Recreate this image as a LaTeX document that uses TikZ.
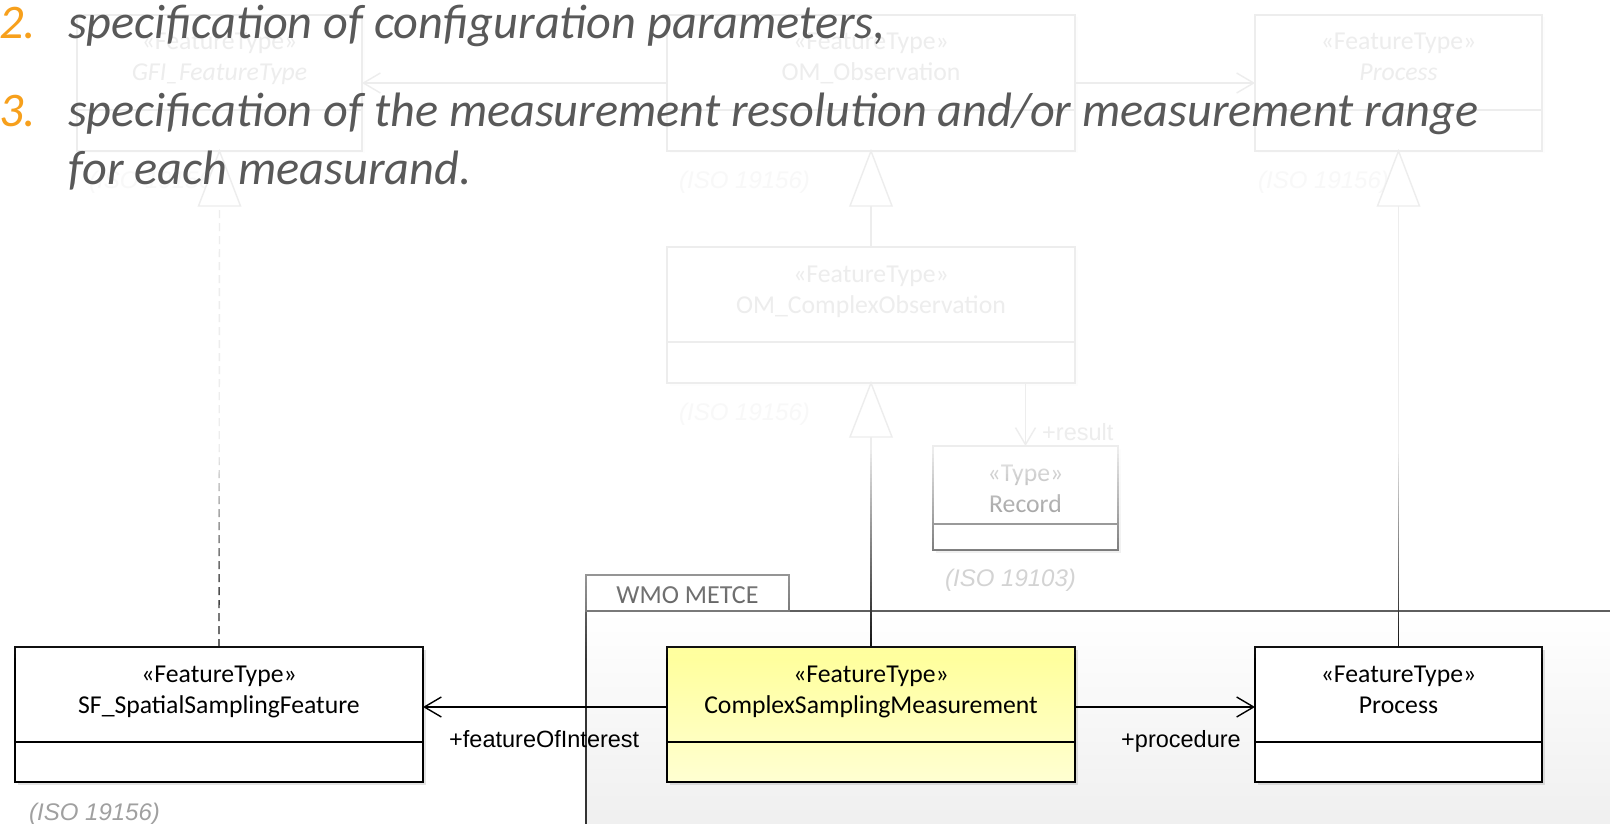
\documentclass[tikz,border=0pt]{standalone}
\usepackage{fontspec}
\setmainfont{Carlito}
\newfontfamily\arialf{Liberation Sans}
\usetikzlibrary{arrows.meta,calc,shadows}
\definecolor{headgray}{HTML}{595959}
\definecolor{numorange}{HTML}{F7A01C}
\definecolor{isogray}{HTML}{A0A0A0}
\definecolor{isolight}{HTML}{D3D3D3}
\definecolor{pkgline}{HTML}{333333}
\definecolor{tabline}{HTML}{555555}
\definecolor{pkgbottom}{HTML}{EFEFEF}
\definecolor{csmtop}{HTML}{FFFF99}
\definecolor{csmbottom}{HTML}{FFFFD2}
\tikzset{
  umlbox/.style={draw=black, line width=1.8pt, fill=white, rectangle, inner sep=0pt, outer sep=0pt,
    drop shadow={shadow xshift=2.5pt, shadow yshift=-2.5pt, opacity=0.22}},
  divider/.style={line width=1.8pt},
  stereo/.style={anchor=base, inner sep=0pt, font=\fontsize{25.7}{30}\selectfont},
  stereoit/.style={anchor=base, inner sep=0pt, font=\itshape\fontsize{25.7}{30}\selectfont},
  assoc/.style={line width=1.4pt, -{Straight Barb[length=17pt,width=20pt,line width=1.4pt]}},
  genline/.style={line width=1.4pt},
  gentri/.style={line width=1.4pt, fill=white, line join=miter},
  rolelabel/.style={anchor=base west, inner sep=0pt, font=\arialf\fontsize{23.5}{28}\selectfont},
  isolabel/.style={anchor=base west, inner sep=0pt, font=\arialf\itshape\fontsize{24}{28}\selectfont, text=isogray},
  headtext/.style={anchor=base west, inner sep=0pt, font=\itshape\fontsize{48.3}{58}\selectfont, text=headgray},
  headnum/.style={anchor=base west, inner sep=0pt, font=\itshape\fontsize{48.3}{58}\selectfont, text=numorange},
}
\begin{document}
\begin{tikzpicture}[x=1pt,y=-1pt]
\fill[white] (0,0) rectangle (1610,824);
\useasboundingbox (0,0) rectangle (1610,824);

% ---------- package WMO METCE ----------
\shade[top color=white, bottom color=pkgbottom] (586,611) rectangle (1615,830);
\draw[pkgline, line width=1.3pt] (586,830) -- (586,611) -- (1615,611);
\node[draw=tabline, line width=1.3pt, fill=white, minimum width=203pt, minimum height=36pt,
      inner sep=0pt, outer sep=0pt] (tab) at (687.5,593) {};
\node[anchor=base, inner sep=0pt, text=pkgline, font=\fontsize{26}{30}\selectfont] (tabtxt) at (687.5,603) {WMO METCE};

% ---------- upper (faded) classes ----------
\node[umlbox, minimum width=285pt, minimum height=136pt] (gfi) at (219.5,83) {};
\draw[divider] ($(gfi.south west)+(0,-41)$) -- ($(gfi.south east)+(0,-41)$);
\node[stereo] (gfi-s) at (219.5,50) {«FeatureType»};
\node[stereoit] (gfi-n) at (219.5,81) {GFI\_FeatureType};

\node[umlbox, minimum width=408pt, minimum height=136pt] (om) at (871,83) {};
\draw[divider] ($(om.south west)+(0,-41)$) -- ($(om.south east)+(0,-41)$);
\node[stereo] (om-s) at (871,50) {«FeatureType»};
\node[stereo] (om-n) at (871,81) {OM\_Observation};

\node[umlbox, minimum width=287pt, minimum height=136pt] (pr1) at (1398.5,83) {};
\draw[divider] ($(pr1.south west)+(0,-41)$) -- ($(pr1.south east)+(0,-41)$);
\node[stereo] (pr1-s) at (1398.5,50) {«FeatureType»};
\node[stereoit] (pr1-n) at (1398.5,81) {Process};

\node[umlbox, minimum width=408pt, minimum height=136pt] (omc) at (871,315) {};
\draw[divider] ($(omc.south west)+(0,-41)$) -- ($(omc.south east)+(0,-41)$);
\node[stereo] (omc-s) at (871,282) {«FeatureType»};
\node[stereo] (omc-n) at (871,313) {OM\_ComplexObservation};

\node[umlbox, minimum width=185pt, minimum height=104pt] (rec) at (1025.5,498) {};
\draw[divider] ($(rec.south west)+(0,-26)$) -- ($(rec.south east)+(0,-26)$);
\node[stereo] (rec-s) at (1025.5,481) {«Type»};
\node[stereo] (rec-n) at (1025.5,512) {Record};

\node[isolabel] (iso1) at (89,189) {(ISO 19156)};
\node[isolabel] (iso2) at (679,189) {(ISO 19156)};
\node[isolabel] (iso3) at (1258,189) {(ISO 19156)};
\node[isolabel] (iso4) at (679,420) {(ISO 19156)};

\draw[assoc] (om.west) -- (gfi.east);
\draw[assoc] (om.east) -- (pr1.west);
\draw[assoc] (rec.north |- omc.south) -- (rec.north);
\node[rolelabel] (res) at (1042,440) {+result};

% ---------- lower classes ----------
\node[umlbox, minimum width=408pt, minimum height=135pt] (sf) at (219,714.5) {};
\draw[divider] ($(sf.south west)+(0,-40)$) -- ($(sf.south east)+(0,-40)$);
\node[stereo] (sf-s) at (219,682) {«FeatureType»};
\node[stereo] (sf-n) at (219,713) {SF\_SpatialSamplingFeature};

\node[umlbox, top color=csmtop, bottom color=csmbottom, minimum width=408pt, minimum height=135pt] (csm) at (871,714.5) {};
\draw[divider] ($(csm.south west)+(0,-40)$) -- ($(csm.south east)+(0,-40)$);
\node[stereo] (csm-s) at (871,682) {«FeatureType»};
\node[stereo] (csm-n) at (871,713) {ComplexSamplingMeasurement};

\node[umlbox, minimum width=287pt, minimum height=135pt] (pr2) at (1398.5,714.5) {};
\draw[divider] ($(pr2.south west)+(0,-40)$) -- ($(pr2.south east)+(0,-40)$);
\node[stereo] (pr2-s) at (1398.5,682) {«FeatureType»};
\node[stereo] (pr2-n) at (1398.5,713) {Process};

\node[isolabel] (iso5) at (29,820) {(ISO 19156)};

% ---------- generalizations / realization ----------
\coordinate (gfi-b) at ($(gfi.south)+(0,55)$);
\coordinate (om-b) at ($(om.south)+(0,55)$);
\coordinate (pr1-b) at ($(pr1.south)+(0,55)$);
\coordinate (omc-b) at ($(omc.south)+(0,54)$);

\draw[genline, dash pattern=on 8pt off 5pt] (sf.north) -- (gfi-b);
\draw[gentri] (gfi.south) -- ($(gfi-b)+(-21,0)$) -- ($(gfi-b)+(21,0)$) -- cycle;
\draw[genline] (omc.north) -- (om-b);
\draw[gentri] (om.south) -- ($(om-b)+(-21,0)$) -- ($(om-b)+(21,0)$) -- cycle;
\draw[genline] (csm.north) -- (omc-b);
\draw[gentri] (omc.south) -- ($(omc-b)+(-21,0)$) -- ($(omc-b)+(21,0)$) -- cycle;
\draw[genline] (pr2.north) -- (pr1-b);
\draw[gentri] (pr1.south) -- ($(pr1-b)+(-21,0)$) -- ($(pr1-b)+(21,0)$) -- cycle;

% ---------- associations ----------
\draw[assoc] ([yshift=-60pt]csm.north west) -- ([yshift=-60pt]sf.north east);
\draw[assoc] ([yshift=-60pt]csm.north east) -- ([yshift=-60pt]pr2.north west);
\node[rolelabel] (foi) at (449,747.5) {+featureOfInterest};
\node[rolelabel] (proc) at (1121,747.5) {+procedure};

% ---------- fade overlay ----------
\fill[white, opacity=0.93] (-5,-5) rectangle (1615,450);
\foreach \i in {0,...,52} {
  \pgfmathsetmacro\op{0.93*(1-(\i+0.5)/53)}
  \fill[white, opacity=\op] (-5,450+4*\i) rectangle (1615,454+4*\i);
}
\node[isolabel, text=isolight] (iso6) at (945,586) {(ISO 19103)};

% ---------- headline text ----------
\node[headnum] (n2) at (-1,39) {2.};
\node[headtext] (l2) at (68,39) {specification of configuration parameters,};
\node[headnum] (n3) at (-1,127) {3.};
\node[headtext] (l3) at (68,127) {specification of the measurement resolution and/or measurement range};
\node[headtext] (l3b) at (68,185) {for each measurand.};
\end{tikzpicture}
\end{document}
